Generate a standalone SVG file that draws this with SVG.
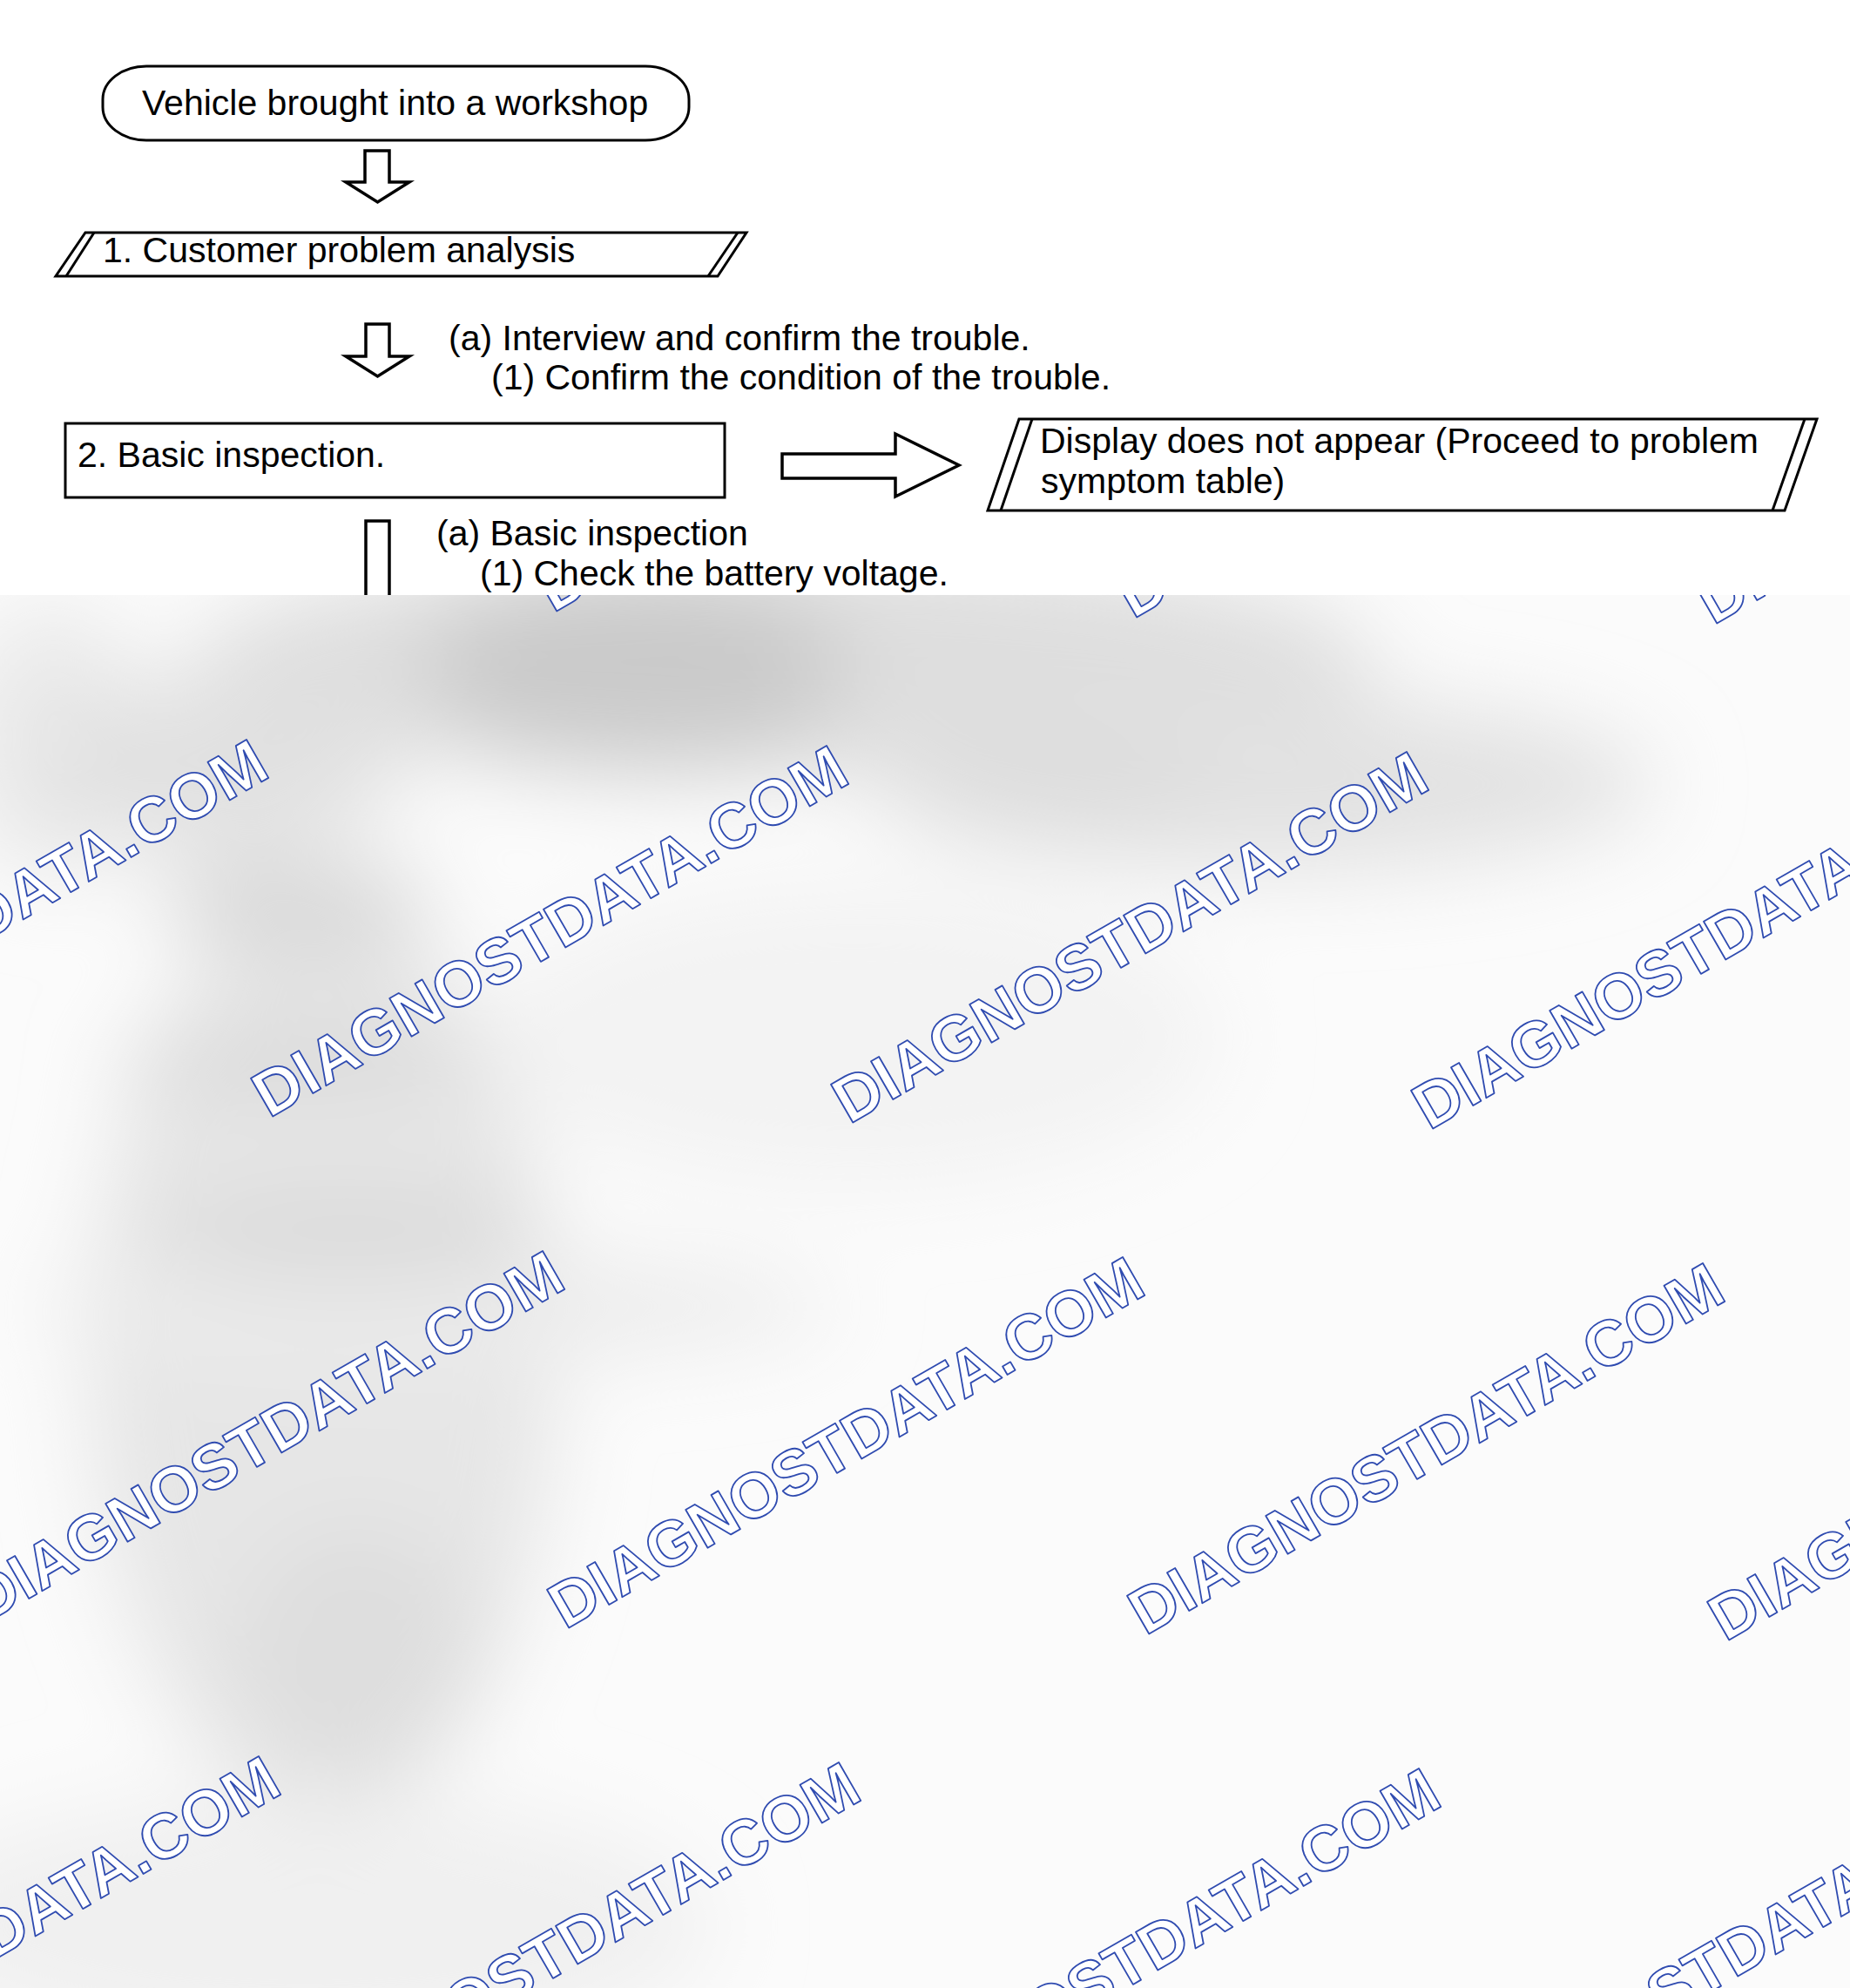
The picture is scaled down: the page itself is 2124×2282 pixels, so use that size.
<svg xmlns="http://www.w3.org/2000/svg" width="2124" height="2282" viewBox="0 0 2124 2282">
  <style>
    .shape { fill: #ffffff; stroke: #000000; stroke-width: 3; stroke-linejoin: miter; }
    .line { fill: none; stroke: #000000; stroke-width: 3; }
    .arrow { fill: #ffffff; stroke: #000000; stroke-width: 3.5; stroke-linejoin: miter; }
    .lbl { font-family: "Liberation Sans", Arial, sans-serif; font-size: 41px; fill: #000000; }
    .wm { font-family: "Liberation Sans", Arial, sans-serif; font-weight: bold; font-size: 73.5px; fill: #ffffff; stroke: #2f4bb0; stroke-width: 1.8; stroke-linejoin: round; }
  </style>
  <defs>
    <filter id="soft" x="-20%" y="-20%" width="140%" height="140%">
      <feGaussianBlur stdDeviation="50"/>
    </filter>
    <clipPath id="grayClip">
      <rect x="0" y="683" width="2124" height="1599"/>
    </clipPath>
  </defs>

  <rect x="0" y="0" width="2124" height="2282" fill="#ffffff"/>

  <!-- Nodes -->
  <g id="node-start">
    <rect class="shape" x="118" y="76" width="673" height="85" rx="50" ry="38"/>
    <text class="lbl" x="163" y="132">Vehicle brought into a workshop</text>
  </g>

  <g id="node-step1">
    <polygon class="shape" points="98,267 857,267 824,317 64,317"/>
    <line class="line" x1="76" y1="317" x2="108" y2="267"/>
    <line class="line" x1="847" y1="267" x2="813" y2="317"/>
    <text class="lbl" x="118" y="301">1. Customer problem analysis</text>
  </g>

  <g id="note-step1">
    <text class="lbl" x="515" y="402">(a) Interview and confirm the trouble.</text>
    <text class="lbl" x="564" y="447">(1) Confirm the condition of the trouble.</text>
  </g>

  <g id="node-step2">
    <rect class="shape" x="75" y="486" width="757" height="85"/>
    <text class="lbl" x="89" y="536">2. Basic inspection.</text>
  </g>

  <g id="node-display">
    <polygon class="shape" points="1170,481 2086,481 2049,586 1134,586"/>
    <line class="line" x1="1149" y1="586" x2="1185" y2="481"/>
    <line class="line" x1="2072" y1="481" x2="2035" y2="586"/>
    <text class="lbl" x="1194" y="520">Display does not appear (Proceed to problem</text>
    <text class="lbl" x="1195" y="566">symptom table)</text>
  </g>

  <g id="note-step2">
    <text class="lbl" x="501" y="626">(a) Basic inspection</text>
    <text class="lbl" x="551" y="672">(1) Check the battery voltage.</text>
  </g>

  <!-- Connectors -->
  <g id="connectors">
    <polygon class="arrow" points="419,173 447,173 447,209 470,209 433.5,232 397,209 419,209"/>
    <polygon class="arrow" points="420,372 447,372 447,409 470,409 433.5,432 397,409 420,409"/>
    <polygon class="arrow" points="898,521 1028,521 1028,498 1101,534 1028,570 1028,549 898,549"/>
    <path class="arrow" d="M420,740 V598 H447 V740"/>
  </g>

  <!-- Watermarked lower region -->
  <g id="watermark-region" clip-path="url(#grayClip)">
    <rect x="0" y="683" width="2124" height="1599" fill="#fbfbfb"/>
    <g filter="url(#soft)">
      <ellipse cx="60" cy="850" rx="110" ry="160" fill="#eaeaea"/>
      <ellipse cx="370" cy="1560" rx="270" ry="520" fill="#e6e6e6"/>
      <ellipse cx="350" cy="2210" rx="470" ry="150" fill="#f0f0f0"/>
      <ellipse cx="500" cy="1500" rx="460" ry="60" fill="#ececec"/>
      <ellipse cx="980" cy="1190" rx="420" ry="170" fill="#f3f3f3"/>
      <ellipse cx="900" cy="760" rx="680" ry="130" fill="#dedede"/>
      <ellipse cx="1450" cy="900" rx="450" ry="100" fill="#e2e2e2"/>
      <ellipse cx="1220" cy="890" rx="170" ry="30" fill="#d9d9d9"/>
      <ellipse cx="250" cy="880" rx="210" ry="100" fill="#e1e1e1"/>
      <ellipse cx="730" cy="770" rx="240" ry="115" fill="#cacaca"/>
      <ellipse cx="340" cy="1040" rx="160" ry="50" fill="#d6d6d6"/>
      <ellipse cx="340" cy="1218" rx="210" ry="38" fill="#d9d9d9"/>
      <ellipse cx="400" cy="1420" rx="230" ry="60" fill="#dbdbdb"/>
      <ellipse cx="410" cy="1900" rx="140" ry="150" fill="#dedede"/>
    </g>
    <g id="watermarks">
      <text class="wm" transform="translate(-31,697) rotate(-30)">DIAGNOSTDATA.COM</text>
      <text class="wm" transform="translate(635,704) rotate(-30)">DIAGNOSTDATA.COM</text>
      <text class="wm" transform="translate(1301,711) rotate(-30)">DIAGNOSTDATA.COM</text>
      <text class="wm" transform="translate(1967,718) rotate(-30)">DIAGNOSTDATA.COM</text>

      <text class="wm" transform="translate(-357,1277) rotate(-30)">DIAGNOSTDATA.COM</text>
      <text class="wm" transform="translate(309,1284) rotate(-30)">DIAGNOSTDATA.COM</text>
      <text class="wm" transform="translate(975,1291) rotate(-30)">DIAGNOSTDATA.COM</text>
      <text class="wm" transform="translate(1641,1298) rotate(-30)">DIAGNOSTDATA.COM</text>

      <text class="wm" transform="translate(-17,1864) rotate(-30)">DIAGNOSTDATA.COM</text>
      <text class="wm" transform="translate(649,1871) rotate(-30)">DIAGNOSTDATA.COM</text>
      <text class="wm" transform="translate(1315,1878) rotate(-30)">DIAGNOSTDATA.COM</text>
      <text class="wm" transform="translate(1981,1885) rotate(-30)">DIAGNOSTDATA.COM</text>

      <text class="wm" transform="translate(-343,2444) rotate(-30)">DIAGNOSTDATA.COM</text>
      <text class="wm" transform="translate(323,2451) rotate(-30)">DIAGNOSTDATA.COM</text>
      <text class="wm" transform="translate(989,2458) rotate(-30)">DIAGNOSTDATA.COM</text>
      <text class="wm" transform="translate(1655,2465) rotate(-30)">DIAGNOSTDATA.COM</text>
    </g>
  </g>
</svg>
